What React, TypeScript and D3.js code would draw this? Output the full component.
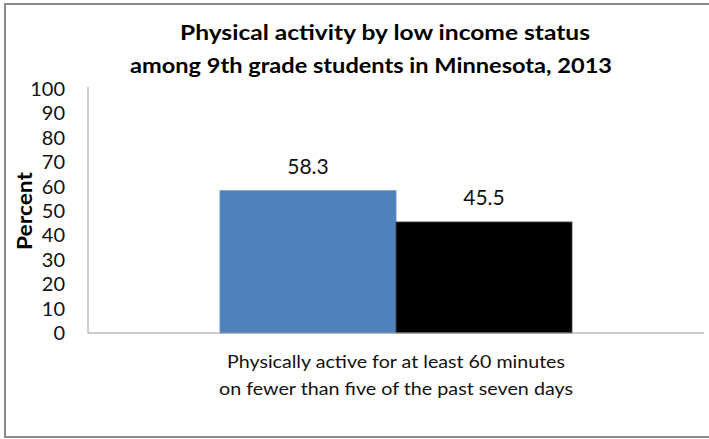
import React from "react";
import * as d3 from "d3";

const categories = ["Physically active for at least 60 minutes|on fewer than five of the past seven days"];
const seriesNames = ["Low income", "Not low income"];
const seriesValues = [58.3, 45.5];
const seriesColors = ["#4F81BD", "#000000"];
const yTicks = [0, 10, 20, 30, 40, 50, 60, 70, 80, 90, 100];
const titleLines = ["Physical activity by low income status", "among 9th grade students in Minnesota, 2013"];
const yAxisTitle = "Percent";

const W = 709;
const H = 439;
const FONT = "Lato, 'Open Sans', sans-serif";

export default function App() {
  const plotLeft = 88;
  const plotRight = 704;
  const plotTop = 89;
  const plotBottom = 333;

  const y = d3.scaleLinear().domain([0, 100]).range([plotBottom, plotTop]);
  const x0 = d3
    .scaleBand<string>()
    .domain(categories)
    .range([plotLeft, plotRight])
    .paddingInner(0)
    .paddingOuter(0.375);
  const x1 = d3
    .scaleBand<string>()
    .domain(seriesNames)
    .range([0, x0.bandwidth()])
    .padding(0);

  return (
    <svg
      width={W}
      height={H}
      style={{ position: "absolute", left: 0, top: 0, background: "#fff" }}
      fontFamily={FONT}
    >
      <rect x={0} y={0} width={W} height={H} fill="#fff" />
      <rect x={5} y={4} width={720} height={433} fill="none" stroke="#8c8c8c" strokeWidth={2} />

      {/* title */}
      <text x={385} y={40} textAnchor="middle" fontSize={21} fontWeight="bold" fill="#000" textLength={410} lengthAdjust="spacingAndGlyphs">
        {titleLines[0]}
      </text>
      <text x={371} y={73} textAnchor="middle" fontSize={21} fontWeight="bold" fill="#000" textLength={482} lengthAdjust="spacingAndGlyphs">
        {titleLines[1]}
      </text>

      {/* y axis title */}
      <text
        transform={`translate(32,211) rotate(-90)`}
        textAnchor="middle"
        fontSize={20}
        fontWeight="bold"
        fill="#000"
        textLength={78}
        lengthAdjust="spacingAndGlyphs"
      >
        {yAxisTitle}
      </text>

      {/* y tick labels */}
      {yTicks.map((t) => (
        <text key={t} x={65} y={y(t)} dy="0.35em" textAnchor="end" fontSize={20} fill="#111">
          {t}
        </text>
      ))}

      {/* bars */}
      {categories.map((c) => (
        <g key={c} transform={`translate(${x0(c)},0)`}>
          {seriesNames.map((s, i) => (
            <g key={s}>
              <rect
                x={x1(s)}
                y={y(seriesValues[i])}
                width={x1.bandwidth()}
                height={y(0) - y(seriesValues[i])}
                fill={seriesColors[i]}
                stroke={i === 0 ? "#5b8bc4" : "#444"}
                strokeWidth={0.8}
              />
              <text
                x={(x1(s) ?? 0) + x1.bandwidth() / 2}
                y={y(seriesValues[i]) - 17}
                textAnchor="middle"
                fontSize={21}
                fill="#111"
              >
                {seriesValues[i].toFixed(1)}
              </text>
            </g>
          ))}
        </g>
      ))}

      {/* axes */}
      <line x1={plotLeft} x2={plotLeft} y1={87} y2={plotBottom} stroke="#9a9a9a" strokeWidth={1} />
      <line x1={plotLeft} x2={plotRight} y1={plotBottom} y2={plotBottom} stroke="#9a9a9a" strokeWidth={1.2} />

      {/* category labels */}
      {categories.map((c) => {
        const cx = (x0(c) ?? 0) + x0.bandwidth() / 2;
        const lines = c.split("|");
        return (
          <g key={c}>
            <text x={cx} y={368} textAnchor="middle" fontSize={17} fill="#111" textLength={338} lengthAdjust="spacingAndGlyphs">
              {lines[0]}
            </text>
            <text x={cx} y={395} textAnchor="middle" fontSize={17} fill="#111" textLength={354} lengthAdjust="spacingAndGlyphs">
              {lines[1]}
            </text>
          </g>
        );
      })}
    </svg>
  );
}
